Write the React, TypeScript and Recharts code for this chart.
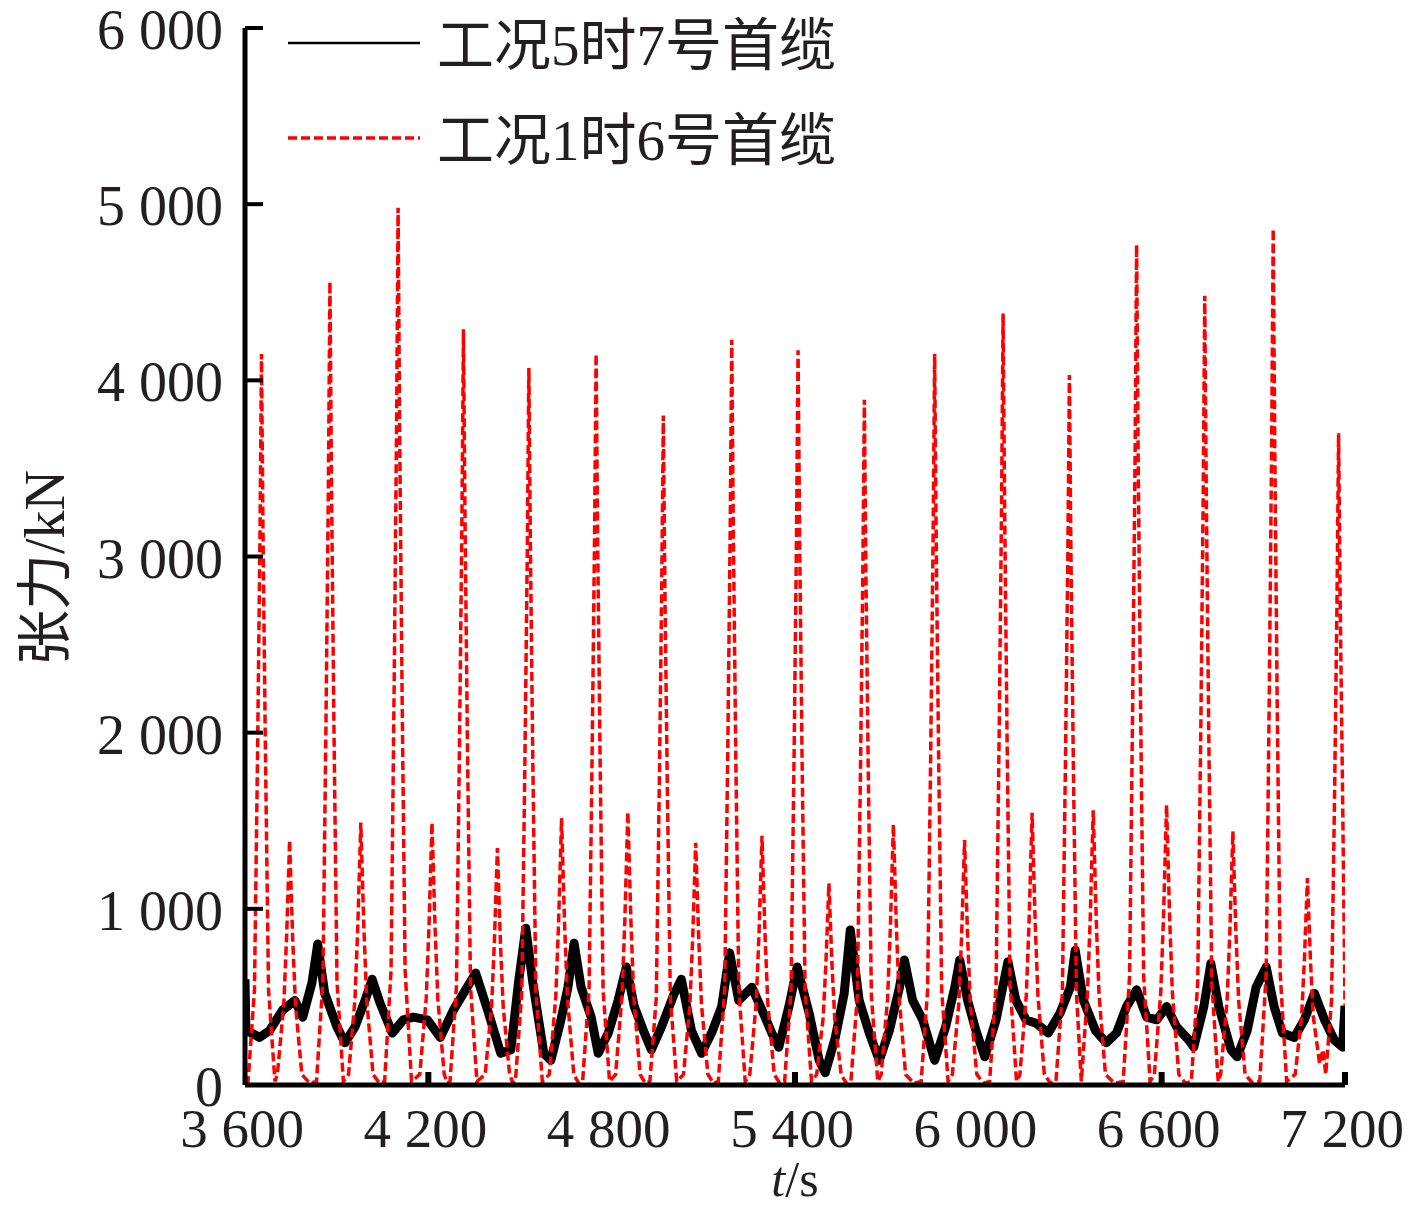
import { LineChart, Line, XAxis, YAxis } from 'recharts'

const FONT = '"Liberation Serif", "Times New Roman", "Noto Sans CJK SC", serif'
const TEXT_COLOR = '#231f20'

// ============================================================================
// DATA
// ============================================================================

const xTicks = [3600, 4200, 4800, 5400, 6000, 6600, 7200]
const xTickMarks = [4200, 5400, 6600, 7200]
const yTicks = [0, 1000, 2000, 3000, 4000, 5000, 6000]

const seriesNames = ['工况5时7号首缆', '工况1时6号首缆']

// 工况5时7号首缆: [t (s), tension (kN)]
const case5Cable7: [number, number][] = [
  [3600, 600], [3603, 300], [3605, 310], [3648, 270], [3681, 310], [3723, 425],
  [3763, 480], [3789, 385], [3819, 580], [3838, 800], [3861, 520], [3901, 330],
  [3927, 240], [3960, 330], [3993, 480], [4016, 600], [4042, 465], [4082, 295],
  [4118, 370], [4151, 385], [4197, 370], [4239, 270], [4282, 425], [4315, 520],
  [4355, 635], [4394, 425], [4437, 180], [4470, 200], [4496, 595], [4519, 890],
  [4542, 580], [4578, 180], [4601, 140], [4634, 370], [4657, 555], [4677, 805],
  [4700, 555], [4733, 385], [4756, 180], [4789, 295], [4821, 480], [4848, 670],
  [4874, 445], [4907, 295], [4930, 200], [4963, 330], [5005, 520], [5028, 600],
  [5061, 310], [5094, 180], [5127, 295], [5160, 445], [5186, 750], [5216, 480],
  [5259, 555], [5292, 425], [5324, 295], [5347, 215], [5380, 445], [5407, 670],
  [5446, 410], [5479, 140], [5499, 70], [5532, 270], [5561, 520], [5581, 880],
  [5610, 480], [5643, 295], [5676, 140], [5709, 310], [5742, 555], [5758, 710],
  [5785, 480], [5818, 370], [5857, 140], [5893, 330], [5923, 555], [5939, 710],
  [5965, 480], [5992, 310], [6021, 160], [6058, 370], [6097, 700], [6123, 480],
  [6156, 370], [6189, 350], [6229, 295], [6268, 410], [6301, 555], [6317, 765],
  [6344, 480], [6383, 310], [6419, 240], [6452, 295], [6485, 445], [6518, 540],
  [6551, 385], [6584, 370], [6616, 445], [6649, 330], [6689, 255], [6705, 215],
  [6738, 445], [6761, 690], [6787, 445], [6827, 200], [6847, 160], [6880, 310],
  [6909, 555], [6942, 670], [6968, 445], [6995, 295], [7034, 270], [7067, 370],
  [7100, 520], [7133, 370], [7165, 255], [7192, 215], [7200, 450],
]

// 工况1时6号首缆: [t (s), tension (kN)]
const case1Cable6: [number, number][] = [
  [3600, 10], [3610, 20], [3631, 540], [3641, 1870], [3649, 3110], [3654, 4150], [3659, 3110], [3667, 1870], [3677, 540], [3698, 20],
  [3706, 60], [3727, 460], [3736, 835], [3741, 1110], [3746, 1390], [3751, 1110], [3756, 835], [3765, 460], [3786, 60],
  [3812, 10],
  [3834, 20], [3855, 590], [3865, 2050], [3873, 3420], [3878, 4560], [3883, 3420], [3891, 2050], [3901, 590], [3922, 20],
  [3939, 60], [3960, 490], [3969, 895], [3974, 1190], [3979, 1490], [3984, 1190], [3989, 895], [3998, 490], [4019, 60],
  [4040, 10],
  [4057, 20], [4078, 650], [4088, 2240], [4096, 3735], [4101, 4980], [4106, 3735], [4114, 2240], [4124, 650], [4145, 20],
  [4172, 60], [4193, 490], [4202, 895], [4207, 1190], [4212, 1490], [4217, 1190], [4222, 895], [4231, 490], [4252, 60],
  [4263, 10],
  [4271, 20], [4292, 560], [4302, 1930], [4310, 3220], [4315, 4290], [4320, 3220], [4328, 1930], [4338, 560], [4359, 20],
  [4386, 60], [4407, 445], [4416, 805], [4421, 1075], [4426, 1345], [4431, 1075], [4436, 805], [4445, 445], [4466, 60],
  [4477, 10],
  [4485, 20], [4506, 530], [4516, 1830], [4524, 3050], [4529, 4070], [4534, 3050], [4542, 1830], [4552, 530], [4573, 20],
  [4596, 60], [4617, 500], [4626, 910], [4631, 1210], [4636, 1515], [4641, 1210], [4646, 910], [4655, 500], [4676, 60],
  [4692, 10],
  [4705, 20], [4726, 540], [4736, 1870], [4744, 3110], [4749, 4150], [4754, 3110], [4762, 1870], [4772, 540], [4793, 20],
  [4813, 60], [4834, 510], [4843, 930], [4848, 1240], [4853, 1550], [4858, 1240], [4863, 930], [4872, 510], [4893, 60],
  [4910, 10],
  [4925, 20], [4946, 495], [4956, 1710], [4964, 2850], [4969, 3800], [4974, 2850], [4982, 1710], [4992, 495], [5013, 20],
  [5035, 60], [5056, 455], [5065, 825], [5070, 1100], [5075, 1375], [5080, 1100], [5085, 825], [5094, 455], [5115, 60],
  [5133, 10],
  [5149, 20], [5170, 550], [5180, 1900], [5188, 3170], [5193, 4230], [5198, 3170], [5206, 1900], [5216, 550], [5237, 20],
  [5252, 60], [5273, 465], [5282, 850], [5287, 1130], [5292, 1415], [5297, 1130], [5302, 850], [5311, 465], [5332, 60],
  [5350, 10],
  [5366, 20], [5387, 540], [5397, 1875], [5405, 3130], [5410, 4170], [5415, 3130], [5423, 1875], [5433, 540], [5454, 20],
  [5471, 60], [5492, 380], [5501, 685], [5506, 915], [5511, 1145], [5516, 915], [5521, 685], [5530, 380], [5551, 60],
  [5568, 10],
  [5583, 20], [5604, 505], [5614, 1750], [5622, 2920], [5627, 3890], [5632, 2920], [5640, 1750], [5650, 505], [5671, 20],
  [5682, 60], [5703, 490], [5712, 890], [5717, 1185], [5722, 1480], [5727, 1185], [5732, 890], [5741, 490], [5762, 60],
  [5789, 10],
  [5813, 20], [5834, 540], [5844, 1870], [5852, 3110], [5857, 4150], [5862, 3110], [5870, 1870], [5880, 540], [5901, 20],
  [5915, 60], [5936, 460], [5945, 835], [5950, 1110], [5955, 1390], [5960, 1110], [5965, 835], [5974, 460], [5995, 60],
  [6017, 10],
  [6037, 20], [6058, 570], [6068, 1970], [6076, 3285], [6081, 4380], [6086, 3285], [6094, 1970], [6104, 570], [6125, 20],
  [6136, 60], [6157, 510], [6166, 925], [6171, 1235], [6176, 1545], [6181, 1235], [6186, 925], [6195, 510], [6216, 60],
  [6236, 10],
  [6254, 20], [6275, 525], [6285, 1815], [6293, 3020], [6298, 4030], [6303, 3020], [6311, 1815], [6321, 525],
  [6337, 20],
  [6357, 515], [6366, 935], [6371, 1250], [6376, 1560], [6381, 1250], [6386, 935], [6395, 515], [6416, 60],
  [6446, 10],
  [6474, 20], [6495, 620], [6505, 2145], [6513, 3580], [6518, 4770], [6523, 3580], [6531, 2145], [6541, 620], [6562, 20],
  [6576, 60], [6597, 525], [6606, 955], [6611, 1270], [6616, 1590], [6621, 1270], [6626, 955], [6635, 525], [6656, 60],
  [6678, 10],
  [6697, 20], [6718, 580], [6728, 2015], [6736, 3360], [6741, 4480], [6746, 3360], [6754, 2015], [6764, 580], [6785, 20],
  [6793, 60], [6814, 475], [6823, 865], [6828, 1150], [6833, 1440], [6838, 1150], [6843, 865], [6852, 475], [6873, 60],
  [6898, 10],
  [6921, 20], [6942, 630], [6952, 2185], [6960, 3645], [6965, 4860], [6970, 3645], [6978, 2185], [6988, 630], [7009, 20],
  [7037, 60], [7058, 390], [7067, 705], [7072, 940], [7077, 1175], [7082, 940], [7087, 705], [7096, 390], [7117, 120],
  [7128, 200], [7137, 60],
  [7156, 480], [7166, 1665], [7174, 2775], [7179, 3700], [7184, 2775], [7192, 1665], [7200, 450],
]

const blackData = case5Cable7.map(([t, v]) => ({ t, v }))
const redData = case1Cable6.map(([t, v]) => ({ t, v }))

// "6 000" style
const fmt = (v: number) =>
  v >= 1000 ? `${Math.floor(v / 1000)} ${String(v % 1000).padStart(3, '0')}` : String(v)

// ============================================================================
// TICKS
// ============================================================================

function YTick({ x, y, payload }: any) {
  return (
    <g>
      <line x1={x} x2={x + 18} y1={y} y2={y} stroke="#000" strokeWidth={4} />
      <text
        x={x - 22}
        y={y + 2}
        textAnchor="end"
        dominantBaseline="central"
        fontSize={56}
        fontFamily={FONT}
        fill={TEXT_COLOR}
      >
        {fmt(payload.value)}
      </text>
    </g>
  )
}

function XTick({ x, y, payload }: any) {
  return (
    <g>
      {xTickMarks.includes(payload.value) && (
        <line x1={x} x2={x} y1={y} y2={y - 13} stroke="#000" strokeWidth={6} />
      )}
      <text
        x={x - 3}
        y={y + 43}
        textAnchor="middle"
        dominantBaseline="central"
        fontSize={55}
        fontFamily={FONT}
        fill={TEXT_COLOR}
      >
        {fmt(payload.value)}
      </text>
    </g>
  )
}

export default function App() {
  return (
    <div style={{ position: 'absolute', left: 0, top: 0, width: 1417, height: 1206, background: '#fff' }}>
      <LineChart
        width={1417}
        height={1206}
        margin={{ top: 28, right: 72, left: 0, bottom: 0 }}
      >
        <XAxis
          type="number"
          dataKey="t"
          domain={[3600, 7200]}
          ticks={xTicks}
          allowDataOverflow
          height={121}
          tickSize={0}
          tickMargin={0}
          tickLine={false}
          axisLine={{ stroke: '#000', strokeWidth: 5 }}
          tick={<XTick />}
        />
        <YAxis
          type="number"
          domain={[0, 6000]}
          ticks={yTicks}
          allowDataOverflow
          width={245}
          tickSize={0}
          tickMargin={0}
          tickLine={false}
          axisLine={{ stroke: '#000', strokeWidth: 5 }}
          tick={<YTick />}
        />
        <Line
          data={blackData}
          dataKey="v"
          name={seriesNames[0]}
          type="linear"
          stroke="#000"
          strokeWidth={9}
          strokeLinejoin="round"
          dot={false}
          isAnimationActive={false}
        />
        <Line
          data={redData}
          dataKey="v"
          name={seriesNames[1]}
          type="linear"
          stroke="#ff0000"
          strokeWidth={3.5}
          strokeDasharray="9 4"
          dot={false}
          isAnimationActive={false}
        />
      </LineChart>

      {/* legend and axis titles */}
      <svg
        width={1417}
        height={1206}
        style={{ position: 'absolute', left: 0, top: 0, pointerEvents: 'none' }}
      >
        <line x1={288} x2={420} y1={43} y2={43} stroke="#000" strokeWidth={2.5} />
        <text x={437} y={45} dominantBaseline="central" fontSize={57} fontFamily={FONT} fill={TEXT_COLOR}>
          {seriesNames[0]}
        </text>
        <line x1={288} x2={420} y1={138} y2={138} stroke="#ff0000" strokeWidth={3.5} strokeDasharray="9 4" />
        <text x={437} y={140} dominantBaseline="central" fontSize={57} fontFamily={FONT} fill={TEXT_COLOR}>
          {seriesNames[1]}
        </text>
        <text
          x={45}
          y={568}
          transform="rotate(-90 45 568)"
          textAnchor="middle"
          dominantBaseline="central"
          fontSize={56}
          fontFamily={FONT}
          fill={TEXT_COLOR}
        >
          张力/kN
        </text>
        <text x={795} y={1196} textAnchor="middle" fontSize={50} fontFamily={FONT} fill={TEXT_COLOR}>
          <tspan fontStyle="italic">t</tspan>/s
        </text>
      </svg>
    </div>
  )
}
